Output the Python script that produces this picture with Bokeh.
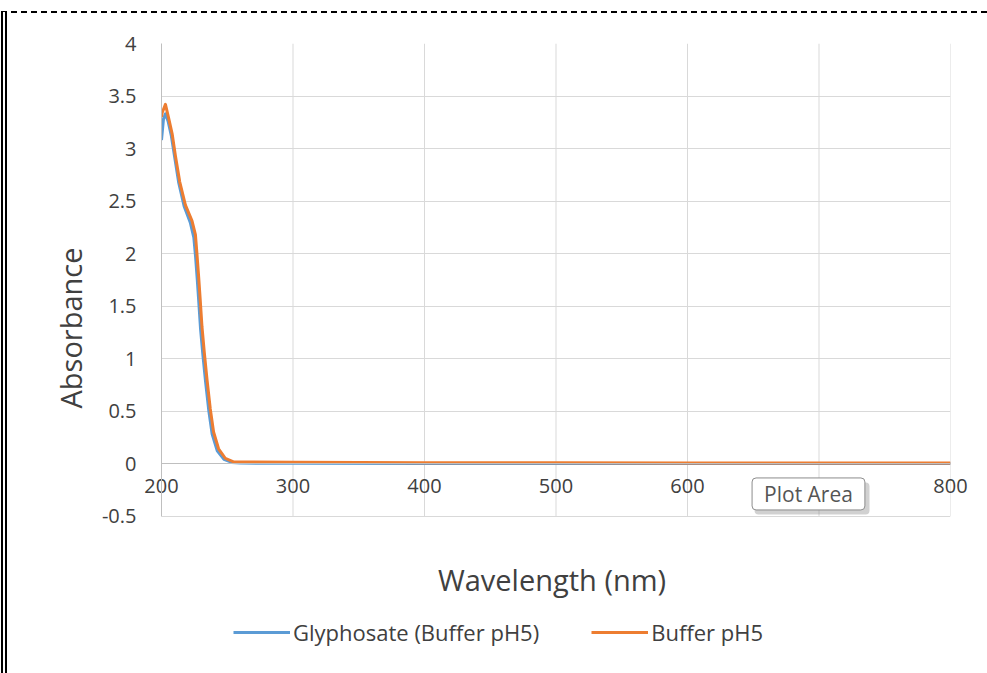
from bokeh.embed import file_html
from bokeh.models import BoxAnnotation, FixedTicker, Label, Legend, LegendItem, Span, Title
from bokeh.plotting import figure
from bokeh.resources import INLINE

# UV-Vis absorbance spectra (nm, absorbance)
wavelength_glyphosate = [200, 201.5, 203, 205, 207.5, 210, 213, 217.2, 222, 224.6,
                         225.9, 227.2, 228.4, 229.7, 231.5, 233.5, 236, 238.5, 242.4, 247.5,
                         253.5, 260, 300, 400, 500, 600, 700, 800]
absorbance_glyphosate = [3.08, 3.28, 3.33, 3.26, 3.12, 2.92, 2.68, 2.45, 2.29, 2.15,
                         1.97, 1.75, 1.53, 1.28, 1.03, 0.78, 0.50, 0.28, 0.12, 0.04,
                         0.01, 0.004, 0.002, 0.0, 0.0, 0.0, 0.0, 0.0]

wavelength_buffer = [200, 200.5, 203, 205.6, 208.1, 210.6, 213.9, 218.2, 223.2, 225.8,
                     227, 228.3, 229.5, 230.8, 232.6, 234.6, 237.1, 239.6, 243.4, 248.5,
                     254.8, 260, 300, 350, 400, 500, 600, 700, 800]
absorbance_buffer = [3.30, 3.34, 3.42, 3.28, 3.14, 2.93, 2.68, 2.46, 2.31, 2.18,
                     1.99, 1.77, 1.55, 1.30, 1.05, 0.80, 0.52, 0.30, 0.14, 0.05,
                     0.015, 0.014, 0.012, 0.01, 0.008, 0.006, 0.005, 0.005, 0.005]

series_names = ["Glyphosate (Buffer pH5)", "Buffer pH5"]
series_colors = ["#5B9BD5", "#ED7D31"]

x_ticks = [200, 300, 400, 500, 600, 700, 800]
x_tick_labels = ["200", "300", "400", "500", "600", "", "800"]
y_ticks = [-0.5, 0, 0.5, 1, 1.5, 2, 2.5, 3, 3.5, 4]
y_tick_labels = ["-0.5", "0", "0.5", "1", "1.5", "2", "2.5", "3", "3.5", "4"]

FONT = "Open Sans"
TEXT = "#404040"
GRID = "#D9D9D9"

# the frame reaches down past the plot area so the title and legend sit inside it
p = figure(
    frame_width=789, frame_height=630,
    x_range=(200, 800), y_range=(-2.0, 4),
    output_backend="svg", toolbar_location=None,
    min_border_left=154, min_border_right=37,
    min_border_top=30, min_border_bottom=1,
    background_fill_color="white", border_fill_color="white",
)
p.styles = {
    "margin-top": "11px",
    "margin-left": "1px",
    "border-top": "2px dashed #000000",
    "border-left": "6px double #000000",
}
p.outline_line_color = None

# wavelength labels sit just under the zero line
xa = p.xaxis[0]
xa.ticker = FixedTicker(ticks=x_ticks)
xa.major_label_overrides = {t: s for t, s in zip(x_ticks, x_tick_labels)}
xa.major_tick_line_color = None
xa.minor_tick_line_color = None
xa.axis_line_color = None
xa.major_label_standoff = -201
xa.major_label_text_font = FONT
xa.major_label_text_font_size = "20px"
xa.major_label_text_color = TEXT

ya = p.yaxis[0]
ya.ticker = FixedTicker(ticks=y_ticks)
ya.bounds = (y_ticks[0], y_ticks[-1])
ya.major_label_overrides = {t: s for t, s in zip(y_ticks, y_tick_labels)}
ya.major_tick_line_color = None
ya.minor_tick_line_color = None
ya.axis_line_color = "#BFBFBF"
ya.major_label_standoff = 19
ya.major_label_text_font = FONT
ya.major_label_text_font_size = "20px"
ya.major_label_text_color = TEXT

# horizontal grid from the ticker, vertical grid only across the plot area
p.xgrid.visible = False
p.ygrid.ticker = FixedTicker(ticks=y_ticks)
p.ygrid.grid_line_color = GRID
p.ygrid.grid_line_width = 1
p.segment(x0=x_ticks[1:], y0=[y_ticks[0]] * (len(x_ticks) - 1),
          x1=x_ticks[1:], y1=[y_ticks[-1]] * (len(x_ticks) - 1),
          line_color=GRID, line_width=1)

# horizontal axis line at zero absorbance
p.add_layout(Span(location=0, dimension="width", line_color="#BFBFBF", line_width=1))

r_glyph = p.line(wavelength_glyphosate, absorbance_glyphosate,
                 line_color=series_colors[0], line_width=3, line_join="round")
r_buffer = p.line(wavelength_buffer, absorbance_buffer,
                  line_color=series_colors[1], line_width=3, line_join="round")

# axis titles
p.add_layout(Title(text="Absorbance", align="left", offset=265, standoff=17,
                   text_font=FONT, text_font_size="29px", text_font_style="normal",
                   text_color=TEXT), "left")
p.add_layout(Label(x=497, y=-1.1, text="Wavelength (nm)",
                   text_align="center", text_baseline="middle",
                   text_font=FONT, text_font_size="29px", text_color=TEXT))

legend = Legend(
    items=[LegendItem(label=series_names[0], renderers=[r_glyph]),
           LegendItem(label=series_names[1], renderers=[r_buffer])],
    orientation="horizontal",
    location=(72, 26),
    glyph_width=57, glyph_height=20,
    label_standoff=3, spacing=52,
    padding=0, margin=0,
    border_line_color=None, background_fill_alpha=0,
    label_text_font=FONT, label_text_font_size="22px", label_text_color=TEXT,
)
p.add_layout(legend)

# hover tag over the plot area, with a soft drop shadow
p.add_layout(BoxAnnotation(left=651.0, right=738.4, bottom=-0.486, top=-0.181,
                           fill_color="#7a7a7a", fill_alpha=0.35, line_color=None,
                           border_radius=4))
p.add_layout(Label(x=692, y=-0.29, text="Plot Area",
                   text_align="center", text_baseline="middle",
                   text_font=FONT, text_font_size="21px", text_color="#555555",
                   background_fill_color="white", border_line_color="#8c8c8c",
                   border_line_width=1, border_radius=4, padding=(12, 2)))

open("out.html", "w").write(file_html(p, INLINE))
